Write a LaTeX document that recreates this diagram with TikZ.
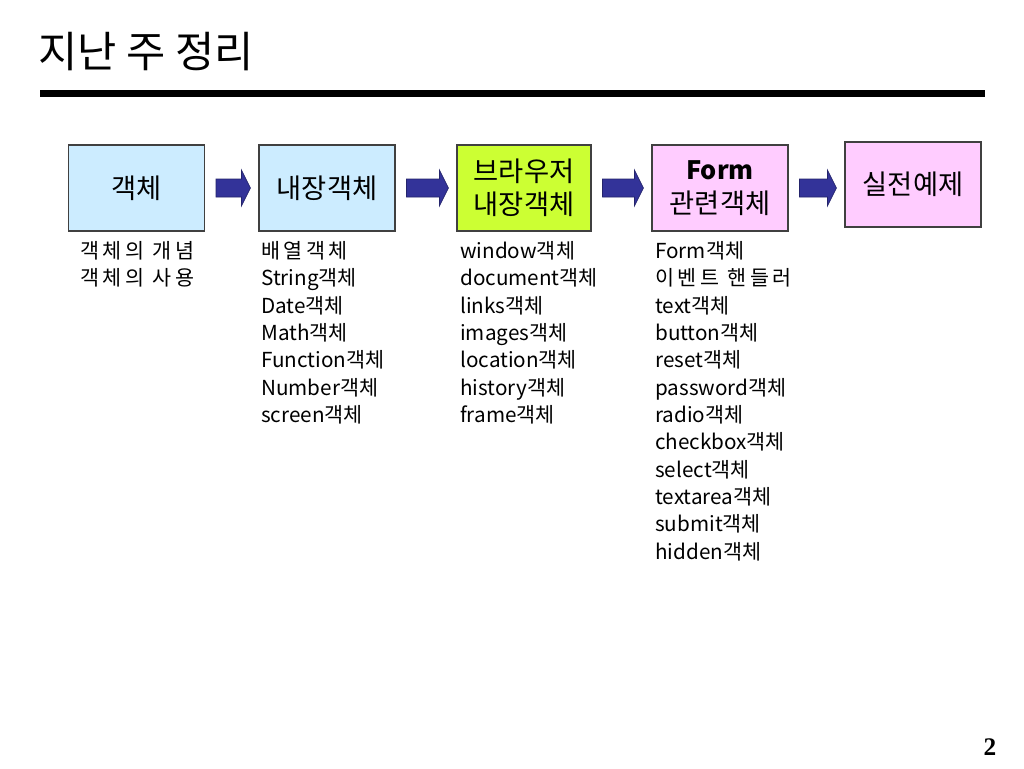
\documentclass[tikz,border=0pt]{standalone}
\usepackage{fontspec}
\setmainfont{Noto Sans CJK KR}
\newfontfamily\serifnum{Liberation Serif}
\newfontfamily\spacedkr[LetterSpace=17]{Noto Sans CJK KR}
\usetikzlibrary{calc}
\definecolor{boxblue}{HTML}{CCECFF}
\definecolor{boxgreen}{HTML}{CCFF33}
\definecolor{boxpink}{HTML}{FFCCFF}
\definecolor{arrblue}{HTML}{333399}
\definecolor{edgegray}{HTML}{404040}
\tikzset{
  stagebox/.style={draw=edgegray, line width=0.8pt, minimum width=102pt, minimum height=64.5pt, inner sep=0pt, align=center, font=\fontsize{20.5}{25}\selectfont},
  listtext/.style={anchor=north west, inner sep=0pt, align=left, font=\fontsize{15.5}{20.5}\selectfont},
  blockarr/.style={fill=arrblue, draw=arrblue!70!black, line width=0.5pt}
}
\newcommand{\blockarrow}[2]{%
  \path (#1.east) ++(11,0) coordinate (s#1);
  \path (s#1 -| #2.west) ++(-8,0) coordinate (t#1);
  \filldraw[blockarr] ($(s#1)+(0,-9)$) -- ($(t#1)+(-9,-9)$) -- ($(t#1)+(-9,-18)$) -- (t#1) -- ($(t#1)+(-9,18)$) -- ($(t#1)+(-9,9)$) -- ($(s#1)+(0,9)$) -- cycle;}
\begin{document}
\begin{tikzpicture}[x=0.75pt, y=-0.75pt]
\useasboundingbox[fill=white] (0,0) rectangle (1024,768);
% title
\node[anchor=west, inner sep=0pt, font=\fontsize{32}{38}\selectfont] (title) at (38,52) {지난 주 정리};
\fill (40,90) rectangle (985,97);
\coordinate (rule) at (512,93);
% boxes
\node[stagebox, fill=boxblue] (b1) at (136.5,188) {객체};
\node[stagebox, fill=boxblue] (b2) at (327,188) {내장객체};
\node[stagebox, fill=boxgreen, minimum width=100.5pt] (b3) at (524,188) {브라우저\\내장객체};
\node[stagebox, fill=boxpink] (b4) at (720,188) {{\fontsize{19}{25}\selectfont\textbf{Form}}\\관련객체};
\node[stagebox, fill=boxpink, minimum height=63.75pt] (b5) at (913,184.5) {실전예제};
% arrows
\blockarrow{b1}{b2}
\blockarrow{b2}{b3}
\blockarrow{b3}{b4}
\blockarrow{b4}{b5}
% lists
\node[listtext] (l1) at (80,241) {{\spacedkr 객체의 개념}\\{\spacedkr 객체의 사용}};
\node[listtext] (l2) at (261,241) {{\spacedkr 배열객체}\\String객체\\Date객체\\Math객체\\Function객체\\Number객체\\screen객체};
\node[listtext] (l3) at (460,241) {window객체\\document객체\\links객체\\images객체\\location객체\\history객체\\frame객체};
\node[listtext] (l4) at (655,241) {Form객체\\{\spacedkr 이벤트 핸들러}\\text객체\\button객체\\reset객체\\password객체\\radio객체\\checkbox객체\\select객체\\textarea객체\\submit객체\\hidden객체};
% page number
\node[inner sep=0pt, font=\serifnum\bfseries\fontsize{19}{22}\selectfont] (pg) at (990,747) {2};
\end{tikzpicture}
\end{document}
